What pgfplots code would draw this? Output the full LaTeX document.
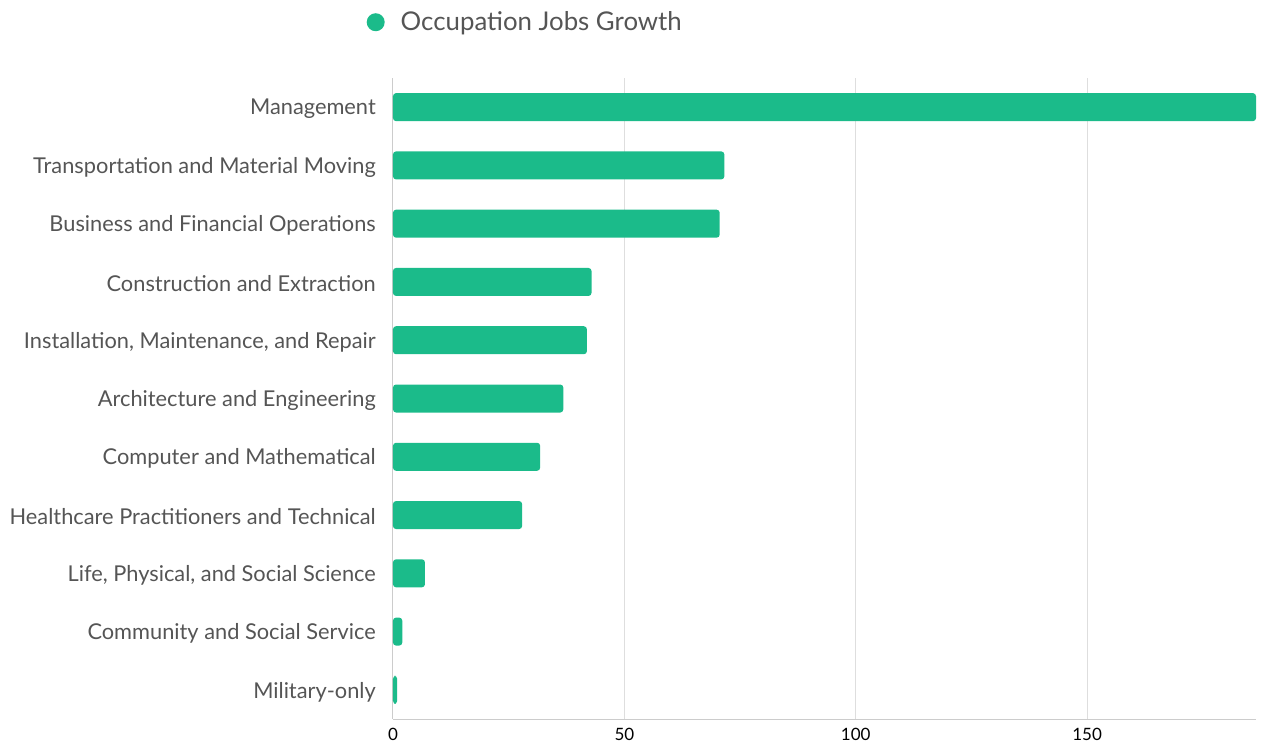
\documentclass[border=0pt]{standalone}
\usepackage{pgfplots}
\pgfplotsset{compat=1.18}
\usepackage{fontspec}
\setmainfont{Lato}
\definecolor{barc}{RGB}{27,187,138}
\definecolor{labc}{RGB}{85,85,85}
\definecolor{gridc}{RGB}{222,222,222}
\definecolor{axc}{RGB}{204,204,204}
\begin{document}
\begin{tikzpicture}
\begin{axis}[
  at={(393pt,25pt)}, anchor=south west,
  scale only axis, width=863pt, height=641pt,
  xmin=0, xmax=186.5, ymin=-0.5, ymax=10.5,
  y dir=reverse,
  ytick={0,...,10},
  yticklabels={Management,Transportation and Material Moving,Business and Financial Operations,Construction and Extraction,{Installation, Maintenance, and Repair},Architecture and Engineering,Computer and Mathematical,Healthcare Practitioners and Technical,{Life, Physical, and Social Science},Community and Social Service,Military-only},
  xtick={0,50,100,150},
  major tick length=0pt,
  axis x line*=bottom, axis y line*=left,
  axis line style={draw=axc, line width=1pt, -},
  xmajorgrids, major grid style={draw=gridc, line width=1pt},
  /pgf/number format/assume math mode=true,
  yticklabel style={font=\fontsize{21.8}{26}\selectfont, text=labc, inner sep=0pt, xshift=-17pt, yshift=-2pt},
  xticklabel style={font=\fontsize{17}{20}\selectfont, text=black, inner sep=0pt, yshift=-9pt, anchor=north},
  legend style={at={(-0.0307,1.087)}, anchor=west, draw=none, fill=none, inner sep=0pt,
    font=\fontsize{25.8}{30}\selectfont, text=labc, legend cell align=left},
  legend image code/.code={\fill[barc, draw=none] (9pt,0pt) circle (9pt); \path[draw=none, fill=none] (0pt,-1pt) rectangle (32pt,1pt);},
]
\addlegendimage{barc}
\addlegendentry{Occupation Jobs Growth}
\addplot[xbar, bar width=28pt, fill=barc, draw=none, rounded corners=3pt, forget plot]
  coordinates {(186.5,0) (71.6,1) (70.6,2) (42.9,3) (41.9,4) (36.8,5) (31.8,6) (27.9,7) (6.9,8) (2.0,9) (0.9,10)};
\end{axis}
\pgfresetboundingbox
\path (0,0) rectangle (1270pt,744pt);
\end{tikzpicture}
\end{document}
